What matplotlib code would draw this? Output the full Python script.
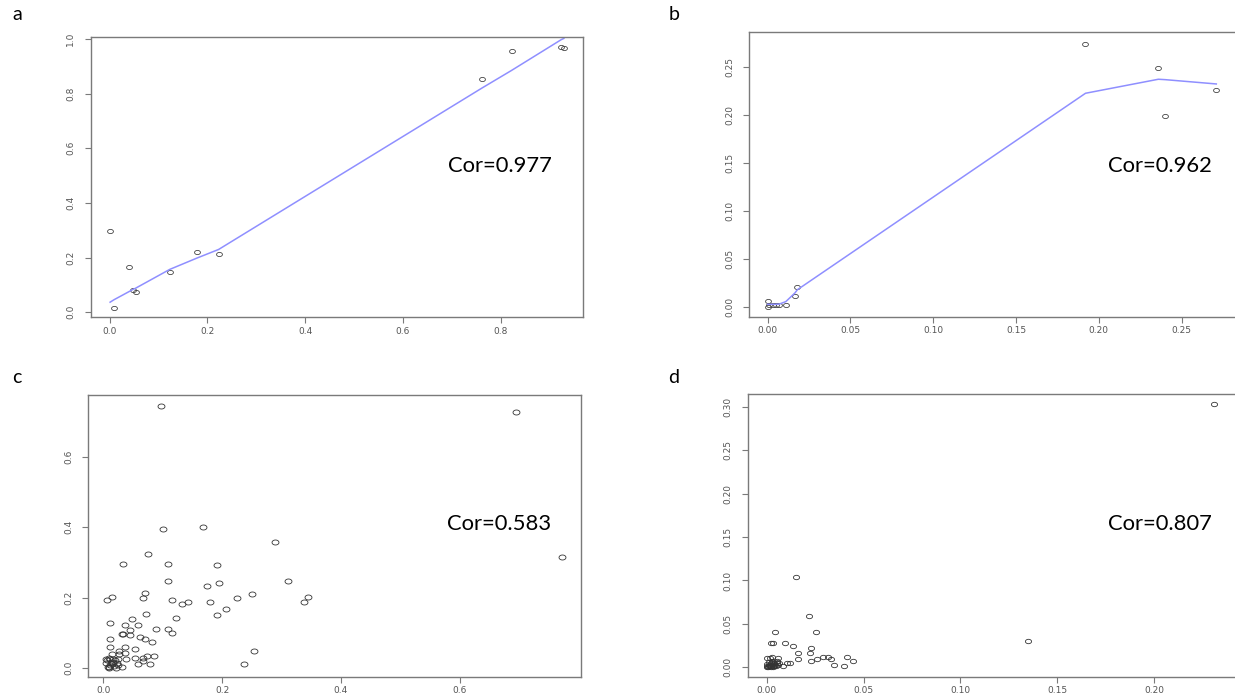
import numpy as np
import matplotlib
matplotlib.use('Agg')
import matplotlib.pyplot as plt
from matplotlib.path import Path
from matplotlib.ticker import FormatStrFormatter

# panel a (points + smoothed fit)
a_x = [0.001, 0.009, 0.040, 0.047, 0.053, 0.123, 0.178, 0.223, 0.761, 0.822, 0.924, 0.929]
a_y = [0.298, 0.017, 0.167, 0.082, 0.073, 0.148, 0.222, 0.213, 0.855, 0.956, 0.972, 0.968]
a_fit = [0.037, 0.046, 0.076, 0.083, 0.088, 0.157, 0.198, 0.230, 0.820, 0.885, 0.998, 1.002]

# panel b
b_x = [0.000, 0.000, 0.001, 0.003, 0.005, 0.007, 0.011, 0.0165, 0.018, 0.192, 0.236, 0.240, 0.271]
b_y = [0.006, 0.000, 0.0024, 0.0024, 0.0024, 0.0024, 0.002, 0.011, 0.021, 0.274, 0.249, 0.199, 0.226]
b_fit = [0.0028, 0.0028, 0.0028, 0.0028, 0.0028, 0.0030, 0.0056, 0.0146, 0.018, 0.2226, 0.2372, 0.2368, 0.2323]

# panel c
c_x = [0.097, 0.100, 0.167, 0.289, 0.076, 0.033, 0.109, 0.192, 0.109, 0.311,
       0.195, 0.174, 0.070, 0.250, 0.015, 0.344, 0.006, 0.066, 0.225, 0.116,
       0.133, 0.143, 0.180, 0.338, 0.207, 0.072, 0.192, 0.048, 0.122, 0.012,
       0.036, 0.058, 0.045, 0.088, 0.109, 0.116, 0.031, 0.033, 0.045, 0.061,
       0.070, 0.012, 0.082, 0.012, 0.036, 0.054, 0.027, 0.253, 0.036, 0.015,
       0.027, 0.073, 0.085, 0.053, 0.066, 0.039, 0.067, 0.005, 0.011, 0.024,
       0.058, 0.079, 0.237, 0.031, 0.009,
       0.0057, 0.0101, 0.0141, 0.0168, 0.0113, 0.0084, 0.0197, 0.0226, 0.0158, 0.0125,
       0.0180, 0.0045, 0.0253, 0.0214, 0.0101,
       0.694, 0.773]
c_y = [0.745, 0.394, 0.401, 0.359, 0.325, 0.296, 0.296, 0.292, 0.249, 0.249,
       0.242, 0.233, 0.214, 0.211, 0.203, 0.202, 0.194, 0.199, 0.199, 0.194,
       0.183, 0.187, 0.187, 0.187, 0.168, 0.153, 0.150, 0.141, 0.144, 0.128,
       0.122, 0.124, 0.110, 0.112, 0.112, 0.100, 0.096, 0.096, 0.094, 0.090,
       0.082, 0.084, 0.075, 0.060, 0.060, 0.054, 0.050, 0.050, 0.044, 0.041,
       0.041, 0.035, 0.035, 0.028, 0.030, 0.026, 0.022, 0.026, 0.026, 0.026,
       0.013, 0.013, 0.013, 0.004, 0.004,
       0.0235, 0.0284, 0.0187, 0.0142, 0.0094, 0.0045, 0.0235, 0.0159, 0.0255, 0.0159,
       0.0065, 0.0142, 0.0094, 0.0017, 0.000,
       0.728, 0.317]

# panel d
d_x = [0.231, 0.135, 0.0153, 0.0219, 0.0043, 0.0253, 0.0024, 0.0031, 0.0097, 0.0134,
       0.0229, 0.0160, 0.0221, 0.0162, 0.0229, 0.0260, 0.0290, 0.0316, 0.0334, 0.0417,
       0.0443, 0.0345, 0.0397, 0.0103, 0.0121, 0.0086, 0.0060, 0.0000, 0.0017, 0.0028,
       0.0052, 0.0066,
       0.000, 0.001, 0.002, 0.003, 0.001, 0.000, 0.002, 0.004, 0.003, 0.0045,
       0.001, 0.0035, 0.000, 0.002, 0.005, 0.0025, 0.0015, 0.004, 0.0005, 0.003,
       0.0055, 0.006]
d_y = [0.303, 0.030, 0.104, 0.0588, 0.0412, 0.0412, 0.0282, 0.0282, 0.0282, 0.0248,
       0.0221, 0.0168, 0.0160, 0.0095, 0.0076, 0.0095, 0.0122, 0.0122, 0.0095, 0.0122,
       0.0073, 0.0023, 0.0015, 0.0050, 0.0050, 0.0011, 0.0107, 0.0107, 0.0107, 0.0118,
       0.0073, 0.0053,
       0.000, 0.001, 0.000, 0.002, 0.003, 0.004, 0.005, 0.001, 0.004, 0.003,
       0.006, 0.0065, 0.002, 0.0025, 0.002, 0.0075, 0.0015, 0.005, 0.0008, 0.000,
       0.0045, 0.003]

cor_labels = ['Cor=0.977', 'Cor=0.962', 'Cor=0.583', 'Cor=0.807']
panel_labels = ['a', 'b', 'c', 'd']

W, H = 1235, 698
fig = plt.figure(figsize=(W / 100, H / 100), dpi=100)


def px_axes(left, top, right, bottom):
    return fig.add_axes([left / W, 1 - bottom / H, (right - left) / W, (bottom - top) / H])


# R-style open circle, a bit squashed like in the screenshot
t = np.linspace(0, 2 * np.pi, 40)
oval = Path(np.c_[np.cos(t), 0.72 * np.sin(t)])

gray = '#7a7a7a'


def style(ax, xticks, yticks, fmt):
    for s in ax.spines.values():
        s.set_color(gray)
        s.set_linewidth(1.0)
    ax.set_xticks(xticks)
    ax.set_yticks(yticks)
    ax.xaxis.set_major_formatter(FormatStrFormatter(fmt))
    ax.yaxis.set_major_formatter(FormatStrFormatter(fmt))
    ax.tick_params(length=4, width=0.8, color=gray, labelsize=6.5,
                   labelcolor='#555555')
    ax.tick_params(axis='x', pad=3)
    ax.tick_params(axis='y', labelrotation=90, pad=7)
    for lab in ax.get_yticklabels():
        lab.set_va('center')


# a
ax = px_axes(90.7, 36.5, 582.7, 317)
ax.plot(a_x, a_y, ls='none', marker=oval, ms=4.2, mfc='none', mec='#444444', mew=0.6)
ax.plot(a_x, a_fit, color='#8f8fff', lw=1.1)
ax.set_xlim(-0.0387, 0.9675)
ax.set_ylim(-0.0172, 1.0091)
style(ax, np.arange(0, 0.81, 0.2), np.arange(0, 1.01, 0.2), '%.1f')

# b
ax = px_axes(749.2, 32.3, 1237, 316.7)
ax.plot(b_x, b_y, ls='none', marker=oval, ms=4.2, mfc='none', mec='#444444', mew=0.6)
ax.plot(b_x, b_fit, color='#8f8fff', lw=1.1)
ax.set_xlim(-0.0111, 0.2835)
ax.set_ylim(-0.0101, 0.2861)
style(ax, np.arange(0, 0.251, 0.05), np.arange(0, 0.251, 0.05), '%.2f')

# c
ax = px_axes(88.3, 395, 581, 676.7)
ax.plot(c_x, c_y, ls='none', marker=oval, ms=5.0, mfc='none', mec='#333333', mew=0.6)
ax.set_xlim(-0.0253, 0.8042)
ax.set_ylim(-0.0238, 0.7751)
style(ax, np.arange(0, 0.61, 0.2), np.arange(0, 0.61, 0.2), '%.1f')

# d
ax = px_axes(747.7, 394, 1237, 676.7)
ax.plot(d_x, d_y, ls='none', marker=oval, ms=4.4, mfc='none', mec='#333333', mew=0.6)
ax.set_xlim(-0.0098, 0.2427)
ax.set_ylim(-0.0108, 0.3146)
style(ax, np.arange(0, 0.201, 0.05), np.arange(0, 0.301, 0.05), '%.2f')

# correlation annotations and panel letters
cor_pos = [(448, 172), (1108, 172), (447, 530), (1108, 530)]
for (x, y), s in zip(cor_pos, cor_labels):
    fig.text(x / W, 1 - y / H, s, fontsize=15.8, family='Lato', va='baseline')

letter_pos = [(12, 20), (669, 20), (12, 383), (668, 383)]
for (x, y), s in zip(letter_pos, panel_labels):
    fig.text(x / W, 1 - y / H, s, fontsize=14, family='Lato', va='baseline')

fig.savefig('out.png', dpi=100)
